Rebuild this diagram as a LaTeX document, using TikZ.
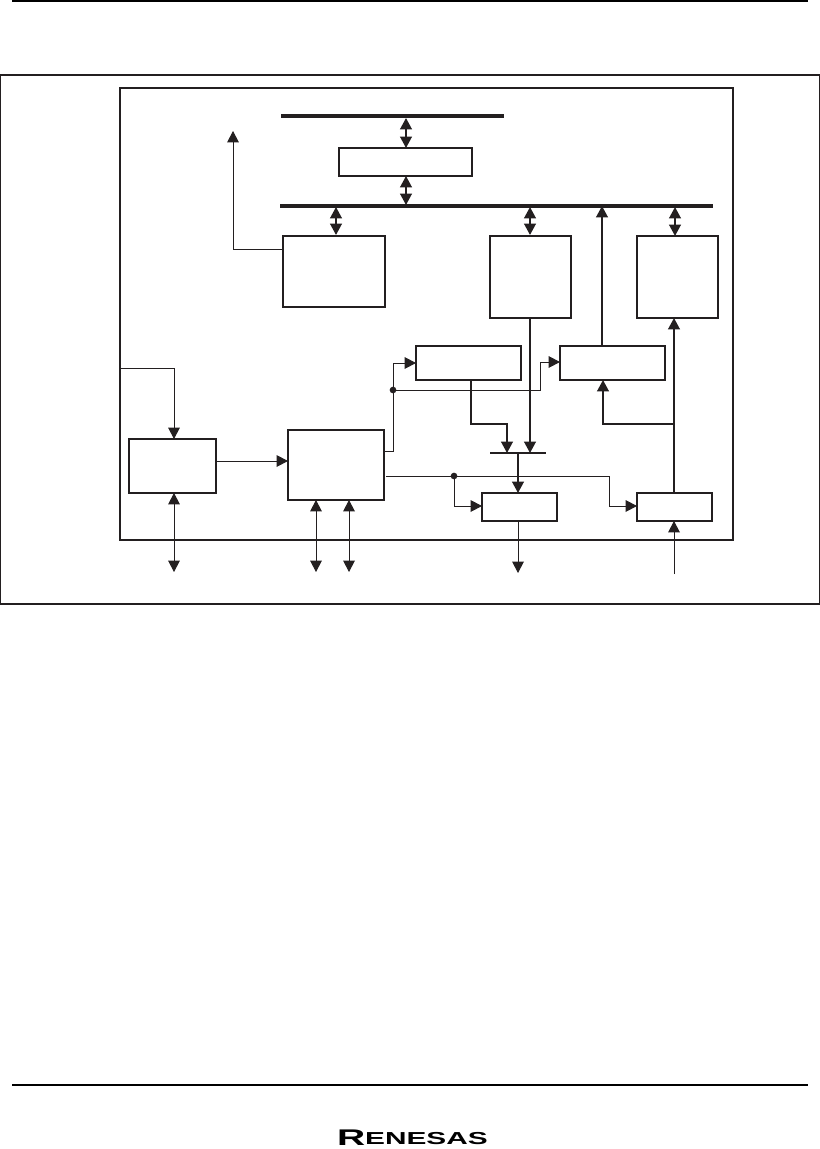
\documentclass[tikz,border=0pt]{standalone}
\usepackage{fontspec}
\setmainfont{Liberation Sans}
\usetikzlibrary{arrows.meta,calc}
\definecolor{ink}{RGB}{35,31,32}
\tikzset{
  x=0.75pt,y=-0.75pt,
  every node/.style={inner sep=0pt,outer sep=0pt},
  blk/.style={draw=ink,line width=1.5pt,fill=white},
  bus/.style={fill=ink,minimum height=3pt},
  rule/.style={fill=black,minimum height=1.3pt},
  tipA/.tip={Triangle[length=8.6pt,width=8.8pt]},
  thin wire/.style={draw=ink,line width=0.75pt},
  thick wire/.style={draw=ink,line width=1.6pt},
  bar wire/.style={fill=ink,minimum height=0.8pt},
  dotnode/.style={circle,fill=ink,minimum size=5pt},
  frm/.style={draw=ink,fill=none},
}
\newcommand{\blkat}[6]{\node[blk,minimum width=#4*0.75pt-#2*0.75pt,minimum height=#5*0.75pt-#3*0.75pt,anchor=north west] (#1) at (#2,#3) {#6};}
\newcommand{\hbarat}[5]{\node[#5,minimum width=#4*0.75pt-#3*0.75pt,anchor=west] (#1) at (#3,#2) {};}
\begin{document}
\begin{tikzpicture}
\useasboundingbox (0,0) rectangle (820,1149);
\fill[white] (0,0) rectangle (820,1149);
% page rules
\hbarat{topr}{1}{12}{808}{rule}
\hbarat{botr}{1085}{12}{808}{rule}
% frames
\node[frm,line width=1.3pt,minimum width=819*0.75pt,minimum height=529*0.75pt,anchor=north west] (outer) at (0.5,75) {};
\node[frm,line width=1.6pt,minimum width=613*0.75pt,minimum height=452*0.75pt,anchor=north west] (inner) at (120,88) {};
% buses
\hbarat{busa}{116}{281}{504}{bus}
\hbarat{busb}{206}{280}{713}{bus}
% blocks
\blkat{a}{339}{148}{472}{176}{}
\blkat{b}{283}{236}{385}{307}{}
\blkat{c}{490}{236}{571}{318}{}
\blkat{d}{637}{236}{718}{318}{}
\blkat{e}{416}{346}{521}{380}{}
\blkat{f}{560}{346}{665}{380}{}
\blkat{g}{482}{493}{557}{521}{}
\blkat{h}{637}{493}{712}{521}{}
\blkat{i}{129}{439}{216}{493}{}
\blkat{j}{288}{430}{384}{500}{}
\hbarat{sumbar}{453}{490}{546}{bar wire}
\node[dotnode] (dota) at (393,390) {};
\node[dotnode] (dotb) at (454,476) {};
% free ends
\coordinate (upend) at (233,131);
\coordinate (framein) at (120,368);
\coordinate (ioi) at (174,572);
\coordinate (ioja) at (316,572);
\coordinate (iojb) at (349,572);
\coordinate (outg) at (518,573);
\coordinate (inh) at (674,574);
\coordinate (fupx) at (602,206);
\coordinate (hx) at (674,424);
% thick double arrows
\draw[thick wire,{tipA}-{tipA}] (406,118) -- (406,148);
\draw[thick wire,{tipA}-{tipA}] (406,176) -- (406,205);
\draw[thick wire,{tipA}-{tipA}] (336,207) -- (336,235);
\draw[thick wire,{tipA}-{tipA}] (530,207) -- (530,235);
\draw[thick wire,{tipA}-{tipA}] (675,207) -- (675,236);
% block b up
\draw[thin wire,-{tipA}] (283,249) -| (upend);
% thick connectors
\draw[thick wire,-{tipA}] (fupx |- f.north) -- (fupx);
\draw[thick wire,-{tipA}] (471,380) |- (507,424) -- (507,453);
\draw[thick wire,-{tipA}] (530,318) -- (530,453);
\draw[thick wire,-{tipA}] (518,453) -- (518,493);
\draw[thick wire,-{tipA}] (hx |- h.north) -- (hx |- d.south);
\draw[thick wire,-{tipA}] (hx) -| (603,380);
% thin connectors
\draw[thin wire,-{tipA}] (framein) -| (174,439);
\draw[thin wire,{tipA}-{tipA}] (174,493) -- (ioi);
\draw[thin wire,-{tipA}] (216,461) -- (288,461);
\draw[thin wire,{tipA}-{tipA}] (316,500) -- (ioja);
\draw[thin wire,{tipA}-{tipA}] (349,500) -- (iojb);
\draw[thin wire,-{tipA}] (384,451) -| (393,363) -- (416,363);
\draw[thin wire,-{tipA}] (dota) -| (540,362) -- (560,362);
\draw[thin wire] (386,476) -- (dotb);
\draw[thin wire,-{tipA}] (dotb) |- (482,506);
\draw[thin wire,-{tipA}] (dotb) -| (609,506) -- (637,506);
\draw[thin wire,-{tipA}] (518,521) -- (outg);
\draw[thin wire,-{tipA}] (inh) -- (674,521);
% logo
\node[anchor=west,text=black] (logo) at (337,1138) {\scalebox{1.72}[1.0]{\fontsize{13pt}{13pt}\selectfont\bfseries\raisebox{-1pt}{\fontsize{17pt}{17pt}\selectfont R}ENESAS}};
\end{tikzpicture}
\end{document}
